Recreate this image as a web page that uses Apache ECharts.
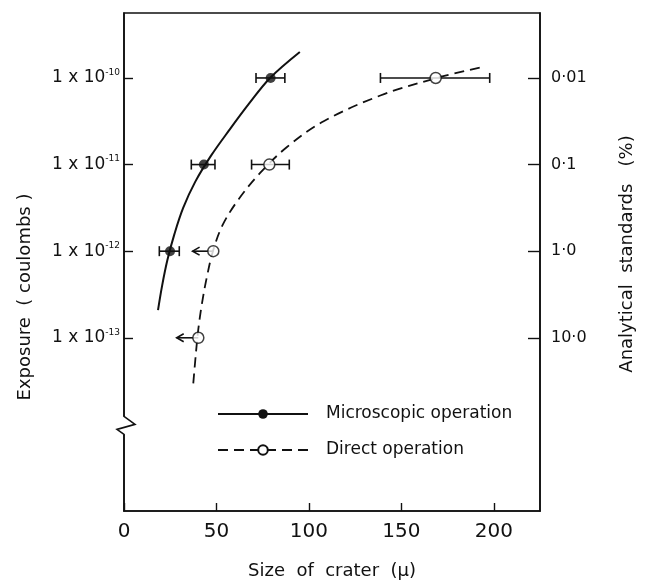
<!DOCTYPE html>
<html>
<head>
<meta charset="utf-8">
<script src="https://cdn.jsdelivr.net/npm/echarts@6/dist/echarts.min.js"></script>
<style>html,body{margin:0;padding:0;background:#fff}#c{width:645px;height:581px}</style>
</head>
<body>
<div id="c"></div>
<script>
// ---- data (log10 of exposure in coulombs on y, crater size in microns on x) ----
const exposureTicks = [-13, -12, -11, -10];
const rightTickLabels = ['10·0', '1·0', '0·1', '0·01'];
const xTicks = [0, 50, 100, 150, 200];

const microY = [-10, -11, -12];
const microX = [79.3, 43.2, 24.9];
const microLo = [71.4, 36.4, 19.1];
const microHi = [87.0, 49.2, 29.9];

const directY = [-10, -11, -12, -13];
const directX = [168.6, 78.6, 48.3, 40.2];
const directLo = [138.7, 69.0, null, null];
const directHi = [197.8, 89.4, null, null];
const directArrowTo = [null, null, 37.1, 28.5];

const microCurveX = [95.1, 79.0, 67.5, 57.0, 47.0, 38.5, 32.0, 27.3, 23.5, 20.6, 18.4];
const microCurveY = [-9.70, -10.0, -10.3, -10.6, -10.9, -11.2, -11.5, -11.8, -12.1, -12.4, -12.68];
const directCurveX = [192.4, 169.2, 139.0, 108.0, 88.0, 73.5, 62.0, 53.3, 48.1, 44.8, 42.2, 40.2, 38.8, 37.3];
const directCurveY = [-9.88, -10.0, -10.2, -10.5, -10.8, -11.1, -11.4, -11.7, -12.0, -12.3, -12.6, -12.9, -13.2, -13.57];

const axisBreakAt = -14;

const FONT = 'DejaVu Sans';
const INK = '#111';

const microCurve = microCurveX.map((x, i) => [x, microCurveY[i]]);
const directCurve = directCurveX.map((x, i) => [x, directCurveY[i]]);
const microPts = microX.map((x, i) => [x, microY[i], microLo[i], microHi[i]]);
const directPts = directX.map((x, i) => [x, directY[i], directLo[i], directHi[i], directArrowTo[i]]);

function errRender(params, api) {
  const x = api.value(0), y = api.value(1), lo = api.value(2), hi = api.value(3), ar = api.value(4);
  const children = [];
  const c = api.coord([x, y]);
  const st = { stroke: INK, lineWidth: 1.6, fill: null };
  if (lo != null && !isNaN(lo) && hi != null && !isNaN(hi)) {
    const a = api.coord([lo, y]), b = api.coord([hi, y]);
    children.push({ type: 'line', shape: { x1: a[0], y1: a[1], x2: b[0], y2: b[1] }, style: st });
    children.push({ type: 'line', shape: { x1: a[0], y1: a[1] - 5, x2: a[0], y2: a[1] + 5 }, style: st });
    children.push({ type: 'line', shape: { x1: b[0], y1: b[1] - 5, x2: b[0], y2: b[1] + 5 }, style: st });
  }
  if (ar != null && !isNaN(ar)) {
    const t = api.coord([ar, y]);
    children.push({ type: 'line', shape: { x1: c[0], y1: c[1], x2: t[0], y2: t[1] }, style: st });
    children.push({ type: 'polyline', shape: { points: [[t[0] + 7, t[1] - 4], [t[0], t[1]], [t[0] + 7, t[1] + 4]] }, style: st });
  }
  return { type: 'group', children };
}

const chart = echarts.init(document.getElementById('c'), null, { renderer: 'canvas' });
chart.setOption({
  animation: false,
  backgroundColor: '#fff',
  grid: { left: 124, right: 105, top: 13, bottom: 70, containLabel: false, outerBoundsMode: 'none',
          show: true, borderColor: INK, borderWidth: 1.6, backgroundColor: 'transparent' },
  legend: {
    orient: 'vertical', left: 217, top: 405, padding: 0, itemWidth: 90, itemHeight: 12, itemGap: 18,
    selectedMode: false,
    textStyle: { fontFamily: FONT, fontSize: 17, color: INK, lineHeight: 18, padding: [0, 0, 0, 13] },
    data: ['Microscopic operation', 'Direct operation']
  },
  xAxis: {
    type: 'value', min: 0, max: 225, interval: 50,
    name: 'Size  of  crater  (μ)', nameLocation: 'middle', nameGap: 51,
    nameTextStyle: { fontFamily: FONT, fontSize: 18, color: INK },
    axisLine: { lineStyle: { color: INK, width: 1.6 } },
    axisTick: { inside: true, length: 8, lineStyle: { color: INK, width: 1.4 }, customValues: xTicks },
    axisLabel: { fontFamily: FONT, fontSize: 20, color: INK, margin: 11, customValues: xTicks },
    splitLine: { show: false }
  },
  yAxis: [{
    type: 'value', min: -15, max: -9.25, position: 'left',
    axisLine: { lineStyle: { color: INK, width: 1.6 } },
    axisTick: { inside: true, length: 9, lineStyle: { color: INK, width: 1.4 }, customValues: exposureTicks },
    axisLabel: {
      customValues: exposureTicks, margin: 4,
      formatter: v => '{b|1 x 10}{s|' + v + '}',
      rich: {
        b: { fontFamily: FONT, fontSize: 17, color: INK },
        s: { fontFamily: FONT, fontSize: 9, color: INK, padding: [0, 0, 11, 0] }
      }
    },
    splitLine: { show: false }
  }, {
    type: 'value', min: -15, max: -9.25, position: 'right',
    axisLine: { show: true, lineStyle: { color: INK, width: 1.6 } },
    axisTick: { inside: true, length: 12, lineStyle: { color: INK, width: 1.4 }, customValues: exposureTicks },
    axisLabel: {
      customValues: exposureTicks, margin: 11,
      fontFamily: FONT, fontSize: 16, color: INK,
      formatter: v => rightTickLabels[exposureTicks.indexOf(v)]
    },
    splitLine: { show: false }
  }],
  graphic: [
    { type: 'text', x: 25, y: 297, rotation: Math.PI / 2,
      style: { text: 'Exposure  ( coulombs )', fontFamily: FONT, fontSize: 18, fill: INK, align: 'center', verticalAlign: 'middle' } },
    { type: 'text', x: 627, y: 254, rotation: Math.PI / 2,
      style: { text: 'Analytical  standards   (%)', fontFamily: FONT, fontSize: 18, fill: INK, align: 'center', verticalAlign: 'middle' } }
  ],
  series: [
    {
      name: 'Microscopic operation', type: 'line', data: microCurve, smooth: 0.35,
      showSymbol: false, symbol: 'circle', symbolSize: 8,
      itemStyle: { color: INK },
      lineStyle: { color: INK, width: 2 }, z: 2
    },
    {
      name: 'Direct operation', type: 'line', data: directCurve, smooth: 0.35,
      showSymbol: false, symbol: 'emptyCircle', symbolSize: 8,
      itemStyle: { color: INK },
      lineStyle: { color: INK, width: 1.8, type: [10, 6] }, z: 2
    },
    { type: 'custom', renderItem: errRender, data: microPts, encode: { x: 0, y: 1 }, z: 3, silent: true },
    { type: 'custom', renderItem: errRender, data: directPts, encode: { x: 0, y: 1 }, z: 3, silent: true },
    { type: 'scatter', data: microPts.map(p => [p[0], p[1]]), symbol: 'circle', symbolSize: 10,
      itemStyle: { color: INK }, z: 4, silent: true },
    { type: 'scatter', data: directPts.map(p => [p[0], p[1]]), symbol: 'circle', symbolSize: 11,
      itemStyle: { color: '#fff', borderColor: INK, borderWidth: 1.5 }, z: 4, silent: true },
    {
      type: 'custom', data: [[0, axisBreakAt]], z: 5, silent: true,
      renderItem: (params, api) => {
        const p = api.coord([api.value(0), api.value(1)]);
        return { type: 'group', children: [
          { type: 'rect', shape: { x: p[0] - 3, y: p[1] - 8, width: 6, height: 18 }, style: { fill: '#fff' } },
          { type: 'polyline', shape: { points: [[p[0], p[1] - 9], [p[0], p[1] - 8], [p[0] + 11, p[1]], [p[0] - 7, p[1] + 5], [p[0], p[1] + 10], [p[0], p[1] + 11]] },
            style: { stroke: INK, lineWidth: 1.6, fill: null } }
        ] };
      }
    }
  ]
});
</script>
</body>
</html>
